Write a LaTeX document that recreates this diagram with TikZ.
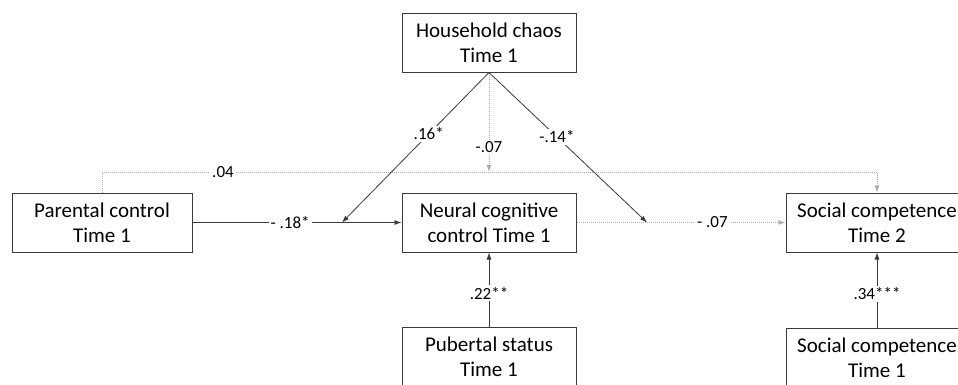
\documentclass[tikz,border=0pt]{standalone}
\usepackage{fontspec}
\setmainfont{Carlito}
\usetikzlibrary{arrows.meta}
\definecolor{lineblk}{HTML}{3A3A3A}
\definecolor{linegry}{HTML}{ABABAB}
\begin{document}
\begin{tikzpicture}[x=1pt,y=-1pt,
  box/.style={draw=lineblk, line width=1pt, fill=white, minimum width=174pt, minimum height=59pt,
    align=center, font=\fontsize{21}{25}\selectfont, inner sep=0pt},
  widebox/.style={box, minimum width=182pt},
  pcbox/.style={box, minimum width=180pt},
  blk/.style={draw=lineblk, line width=0.8pt, -{Latex[length=7pt,width=5pt]}},
  gry/.style={draw=linegry, line width=0.9pt, dash pattern=on 1pt off 1pt, -{Latex[length=7pt,width=5pt]}},
  lab/.style={fill=white, font=\fontsize{17}{20}\selectfont, inner sep=2pt, text=black}]
\useasboundingbox (0,0) rectangle (958,384);
\fill[white] (0,0) rectangle (958,384);

\node[box] (hc) at (489,42.5) {Household chaos\\Time 1};
\node[pcbox] (pc) at (102,222.5) {Parental control\\Time 1};
\node[box] (nc) at (489,222.5) {Neural cognitive\\control Time 1};
\node[widebox] (sc2) at (877,222.5) {Social competence\\Time 2};
\node[box] (ps) at (489,356.5) {Pubertal status\\Time 1};
\node[widebox] (sc1) at (877,357.5) {Social competence\\Time 1};

\coordinate (m1) at (342,222.5);
\coordinate (m2) at (647,222.5);
\coordinate (lvl) at (489,172);

% .04 path
\draw[gry] (pc.north) |- (lvl) -| (sc2.north);
\node[lab] (l04) at (223,172) {.04};

% household chaos paths
\draw[gry] (hc.south) -- node[lab, pos=0.75] (l07a) {-.07} (lvl);
\draw[blk] (hc.south) -- node[lab, pos=0.41] (l16) {.16*} (m1);
\draw[blk] (hc.south) -- node[lab, pos=0.43] (l14) {-.14*} (m2);

% main paths
\draw[blk] (pc.east) -- node[lab, pos=0.467] (l18) {- .18*} (nc.west);
\draw[gry] (nc.east) -- node[lab, pos=0.65] (l07b) {- .07} (sc2.west);
\draw[blk] (ps.north) -- node[lab, pos=0.45] (l22) {.22**} (nc.south);
\draw[blk] (sc1.north) -- node[lab, pos=0.45] (l34) {.34***} (sc2.south);
\end{tikzpicture}
\end{document}
